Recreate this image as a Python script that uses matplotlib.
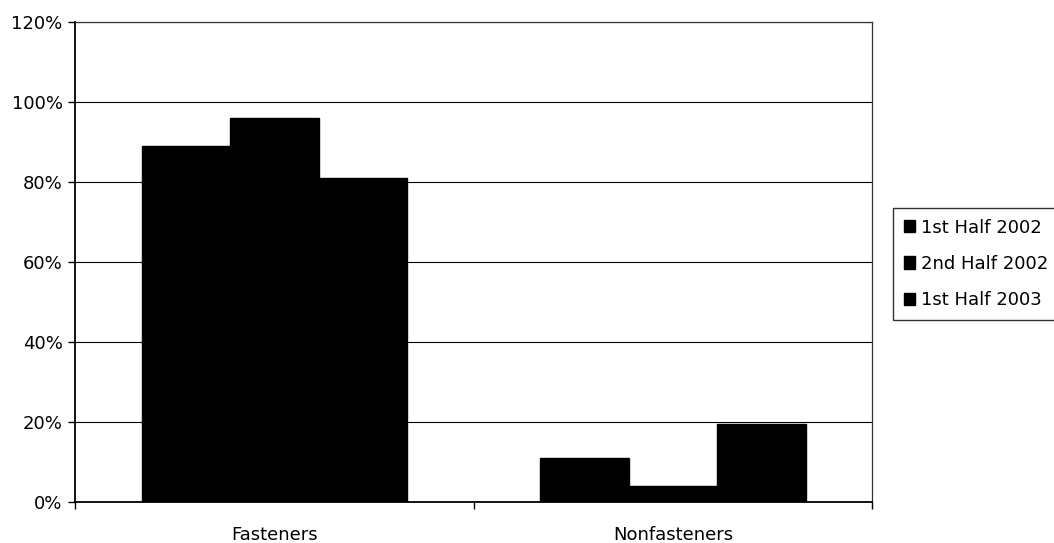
import numpy as np
import matplotlib.pyplot as plt
from matplotlib.patches import Patch

plt.rcParams['font.family'] = ['DejaVu Sans']

categories = ["Fasteners", "Nonfasteners"]
series_names = ["1st Half 2002", "2nd Half 2002", "1st Half 2003"]
h1_2002 = [89, 11]
h2_2002 = [96, 4]
h1_2003 = [81, 19.5]
yticks = [0, 20, 40, 60, 80, 100, 120]

fig = plt.figure(figsize=(10.54, 5.43), dpi=100)
ax = fig.add_axes([0.0712, 0.0755, 0.7562, 0.884])

x = np.arange(len(categories))
w = 0.222
for i, vals in enumerate([h1_2002, h2_2002, h1_2003]):
    ax.bar(x + (i - 1) * w, vals, width=w, color="black", edgecolor="black", zorder=3)

ax.set_xlim(-0.5, 1.5)
ax.set_ylim(0, 120)
ax.set_yticks(yticks)
ax.set_yticklabels(["{}%".format(v) for v in yticks], fontsize=13)
ax.yaxis.grid(True, color="black", linewidth=0.8, zorder=1)

# category ticks sit on the boundaries, labels in the middle
ax.set_xticks([-0.5, 0.5, 1.5])
ax.set_xticklabels([])
ax.set_xticks(x, minor=True)
ax.set_xticklabels(categories, minor=True, fontsize=13)
ax.tick_params(axis="x", which="minor", length=0, pad=17)
ax.tick_params(axis="x", which="major", direction="out", length=5, width=1)
ax.tick_params(axis="y", direction="out", length=5, width=1, pad=4)

for side in ["left", "bottom"]:
    ax.spines[side].set_linewidth(1.3)
for side in ["top", "right"]:
    ax.spines[side].set_linewidth(0.9)
    ax.spines[side].set_color("#333333")

handles = [Patch(facecolor="black", edgecolor="black", label=n) for n in series_names]
leg = fig.legend(handles=handles, loc="upper left", bbox_to_anchor=(0.847, 0.617),
                 fontsize=13, frameon=True, fancybox=False, edgecolor="black",
                 handlelength=0.65, handleheight=0.65, handletextpad=0.3,
                 labelspacing=1.0, borderpad=0.6, borderaxespad=0)
leg.get_frame().set_linewidth(1.0)

fig.savefig("out.png", dpi=100)
